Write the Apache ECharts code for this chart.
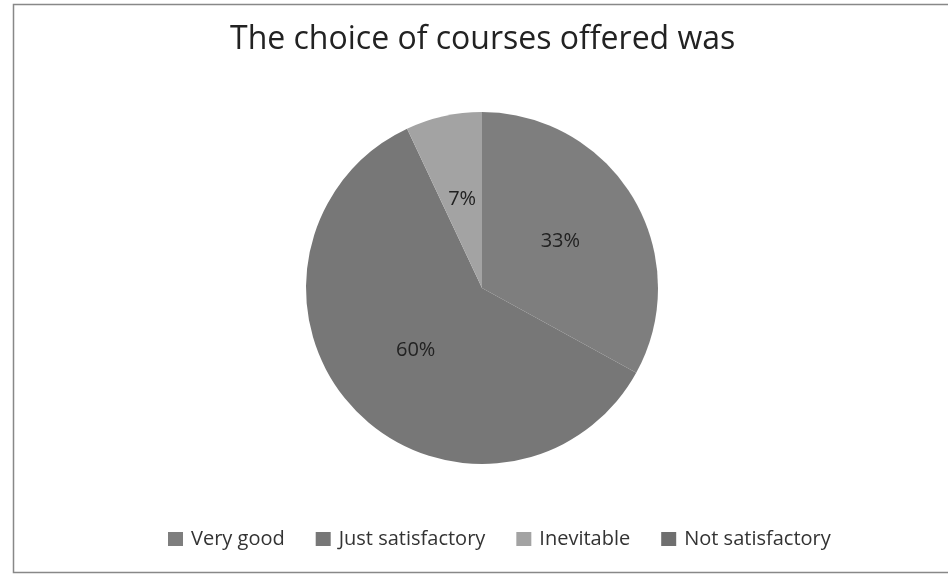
<!DOCTYPE html>
<html><head><meta charset="utf-8">
<script src="https://cdn.jsdelivr.net/npm/echarts@6/dist/echarts.min.js"></script>
<style>html,body{margin:0;padding:0;background:#fff}#c{width:948px;height:578px}</style>
</head><body><div id="c"></div>
<script>
const categories = ['Very good', 'Just satisfactory', 'Inevitable', 'Not satisfactory'];
const values = [33, 60, 7, 0];
const colors = ['#7e7e7e', '#777777', '#a3a3a3', '#6f6f6f'];
const titleText = 'The choice of courses offered was';

const chart = echarts.init(document.getElementById('c'), null, {renderer: 'canvas'});
chart.setOption({
  backgroundColor: '#ffffff',
  animation: false,
  title: {
    text: titleText, left: 225, top: 19,
    textStyle: {fontFamily: 'Open Sans', fontSize: 32, fontWeight: 'normal', color: '#222'}
  },
  legend: {
    data: categories, bottom: 24, left: 163,
    itemWidth: 15, itemHeight: 14, itemGap: 31, icon: 'rect',
    textStyle: {fontFamily: 'Open Sans', fontSize: 20, color: '#333', padding: [0, 0, 0, 3]}
  },
  graphic: [{
    type: 'rect', shape: {x: 13.5, y: 4.5, width: 960, height: 568},
    style: {fill: 'none', stroke: '#888', lineWidth: 1.5}, silent: true
  }],
  series: [{
    type: 'pie', radius: 176, center: [482, 288], startAngle: 90, clockwise: true,
    data: categories.map((n, i) => ({name: n, value: values[i], itemStyle: {color: colors[i]}})),
    label: {show: true, position: 'inside', formatter: p => p.value > 0 ? p.percent.toFixed(0) + '%' : '',
      fontFamily: 'Open Sans', fontSize: 20, color: '#222'},
    labelLine: {show: false},
    itemStyle: {borderWidth: 0},
    emphasis: {disabled: true}
  }]
});
</script></body></html>
